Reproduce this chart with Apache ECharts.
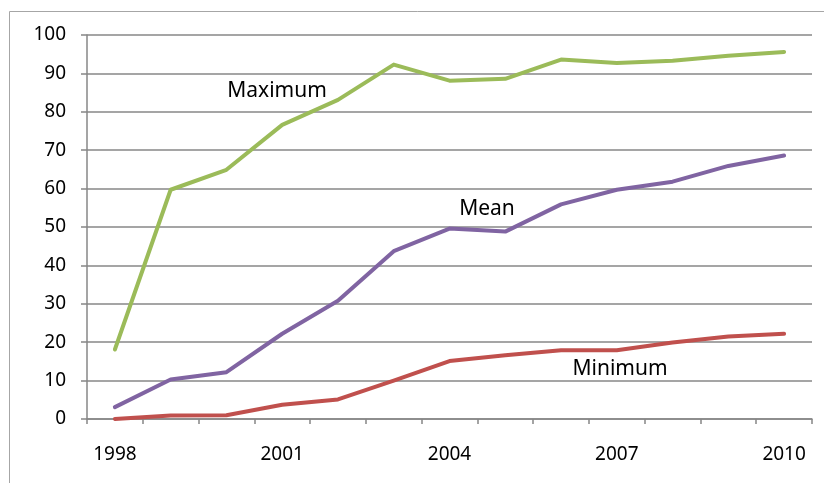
<!DOCTYPE html>
<html>
<head>
<meta charset="utf-8">
<script src="https://cdn.jsdelivr.net/npm/echarts@6/dist/echarts.min.js"></script>
<style>
  html, body { margin: 0; padding: 0; background: #ffffff; }
  #chart { width: 824px; height: 483px; }
</style>
</head>
<body>
<div id="chart"></div>
<script>
// Yearly series: maximum, mean and minimum values, 1998–2010
const years = ['1998', '1999', '2000', '2001', '2002', '2003', '2004',
               '2005', '2006', '2007', '2008', '2009', '2010'];
const maximumValues = [18.1, 59.7, 64.9, 76.6, 83.1, 92.3, 88.1, 88.6, 93.6, 92.7, 93.3, 94.6, 95.6];
const meanValues    = [3.1, 10.3, 12.2, 22.2, 30.8, 43.7, 49.6, 48.8, 55.9, 59.7, 61.8, 65.9, 68.6];
const minimumValues = [0.0, 0.9, 1.0, 3.7, 5.1, 10.0, 15.1, 16.6, 17.9, 17.9, 19.9, 21.5, 22.2];
const yTicks = { min: 0, max: 100, interval: 10 };

const FONT = '"Noto Sans", "Open Sans", sans-serif';
const AXIS_GRAY = '#878787';

function lineSeries(name, values, color) {
  return {
    name: name,
    type: 'line',
    data: values,
    symbol: 'none',
    smooth: false,
    lineStyle: { color: color, width: 4, cap: 'round', join: 'round' },
    emphasis: { disabled: true },
    z: 3
  };
}

const chart = echarts.init(document.getElementById('chart'), null, { renderer: 'canvas' });

chart.setOption({
  animation: false,
  backgroundColor: '#ffffff',
  grid: { left: 87, right: 12, top: 35, bottom: 64, containLabel: false },
  xAxis: {
    type: 'category',
    data: years,
    boundaryGap: true,
    axisLine: { show: true, lineStyle: { color: AXIS_GRAY, width: 1.5 } },
    axisTick: { show: true, interval: 0, length: 5, inside: false, lineStyle: { color: AXIS_GRAY, width: 1.5 } },
    axisLabel: { interval: 2, margin: 26, color: '#000', fontFamily: FONT, fontSize: 19 },
    splitLine: { show: false }
  },
  yAxis: {
    type: 'value',
    min: yTicks.min,
    max: yTicks.max,
    interval: yTicks.interval,
    axisLine: { show: true, lineStyle: { color: AXIS_GRAY, width: 1.5 } },
    axisTick: { show: true, length: 6, lineStyle: { color: AXIS_GRAY, width: 1.5 } },
    axisLabel: { margin: 21, color: '#000', fontFamily: FONT, fontSize: 19 },
    splitLine: { show: true, lineStyle: { color: AXIS_GRAY, width: 1.5 } }
  },
  series: [
    lineSeries('Maximum', maximumValues, '#9BBB59'),
    lineSeries('Mean', meanValues, '#8064A2'),
    lineSeries('Minimum', minimumValues, '#C0504D')
  ],
  graphic: [
    {
      type: 'rect',
      silent: true,
      shape: { x: 9.5, y: 11.5, width: 1000, height: 1000 },
      style: { fill: 'none', stroke: '#a6a6a6', lineWidth: 1 },
      z: -1
    },
    {
      type: 'text', silent: true,
      style: { text: 'Maximum', x: 277, y: 91, align: 'center', verticalAlign: 'middle', font: '21px ' + FONT, fill: '#000' }
    },
    {
      type: 'text', silent: true,
      style: { text: 'Mean', x: 487, y: 209, align: 'center', verticalAlign: 'middle', font: '21px ' + FONT, fill: '#000' }
    },
    {
      type: 'text', silent: true,
      style: { text: 'Minimum', x: 620, y: 369, align: 'center', verticalAlign: 'middle', font: '21px ' + FONT, fill: '#000' }
    }
  ]
});
</script>
</body>
</html>
